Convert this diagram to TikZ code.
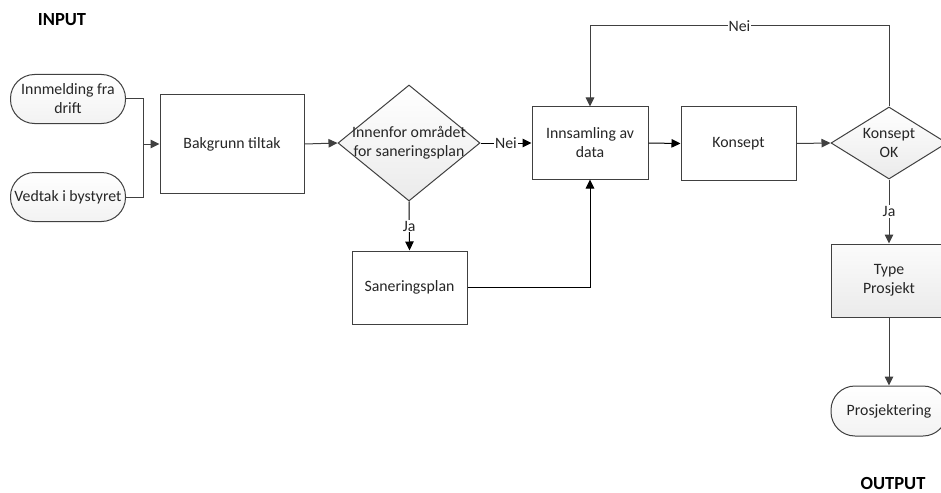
\documentclass[tikz,border=0pt]{standalone}
\usepackage{fontspec}
\setmainfont{Carlito}
\usetikzlibrary{arrows.meta,shapes.geometric}
\begin{document}
\begin{tikzpicture}[x=1pt,y=-1pt,
  every node/.style={font=\fontsize{15.8}{19}\selectfont, text=black!85},
  base/.style={draw=black!75, line width=1pt},
  stepbox/.style={base, rectangle, fill=white, align=center},
  graybox/.style={base, rectangle, top color=gray!3, bottom color=gray!16, align=center},
  terminal/.style={base, rectangle, rounded corners=24pt, top color=white, bottom color=gray!10,
    minimum width=115, minimum height=49, align=center, inner sep=0pt},
  decision/.style={base, diamond, top color=white, bottom color=gray!16, inner sep=0pt},
  flow/.style={draw=black!75, line width=1pt},
  arrow/.style={flow, -{Triangle[length=9pt,width=8.5pt]}},
  lbl/.style={fill=white, inner sep=1pt},
  heading/.style={font=\fontsize{18.5}{22}\selectfont\bfseries, text=black}
]
\clip (0,0) rectangle (941,492);
\fill[white] (0,0) rectangle (941,492);

% headings
\node[heading] (input) at (62,20) {INPUT};
\node[heading] (output) at (893,483) {OUTPUT};

% inputs
\node[terminal] (in1) at (68,99) {Innmelding fra\\drift};
\node[terminal] (in2) at (68,197) {Vedtak i bystyret};

% process steps
\node[stepbox, minimum width=144, minimum height=99] (bak) at (232,144) {Bakgrunn tiltak};
\node[decision, minimum width=142, minimum height=116] (d1) at (409,143) {};
\node[align=center] (d1t) at (d1.center) {Innenfor området\\for saneringsplan};
\node[stepbox, minimum width=116, minimum height=72] (inn) at (590,143) {Innsamling av\\data};
\node[stepbox, minimum width=115, minimum height=73] (kon) at (738.5,143.5) {Konsept};
\node[decision, minimum width=116, minimum height=72] (d2) at (889,143) {};
\node[align=center] (d2t) at (d2.center) {Konsept\\OK};
\node[stepbox, minimum width=115, minimum height=73] (san) at (409.5,287.5) {Saneringsplan};
\node[graybox, minimum width=116, minimum height=73] (tp) at (889,280.5) {Type\\Prosjekt};
\node[terminal, minimum width=116, minimum height=50] (pro) at (889,411) {Prosjektering};

% connectors
\coordinate (join) at (143,144);
\draw[flow] (in1.east) -| (join);
\draw[flow] (in2.east) -| (join);
\draw[arrow] (join) -- (bak.west);
\draw[arrow] (bak.east) -- (d1.west);
\draw[arrow, draw=black] (d1.east) -- node[lbl] {Nei} (inn.west);
\draw[arrow, draw=black] (inn.east) -- (kon.west);
\draw[arrow] (kon.east) -- (d2.west);
\coordinate (loop) at (889,26);
\draw[arrow] (d2.north) -- (loop) -| node[lbl, pos=0.25] {Nei} (inn.north);
\draw[arrow] (d2.south) -- node[lbl] {Ja} (tp.north);
\draw[arrow] (tp.south) -- (pro.north);
\draw[arrow, draw=black] (d1.south) -- node[lbl] {Ja} (san.north);
\draw[arrow, draw=black] (san.east) -| (inn.south);
\end{tikzpicture}
\end{document}
